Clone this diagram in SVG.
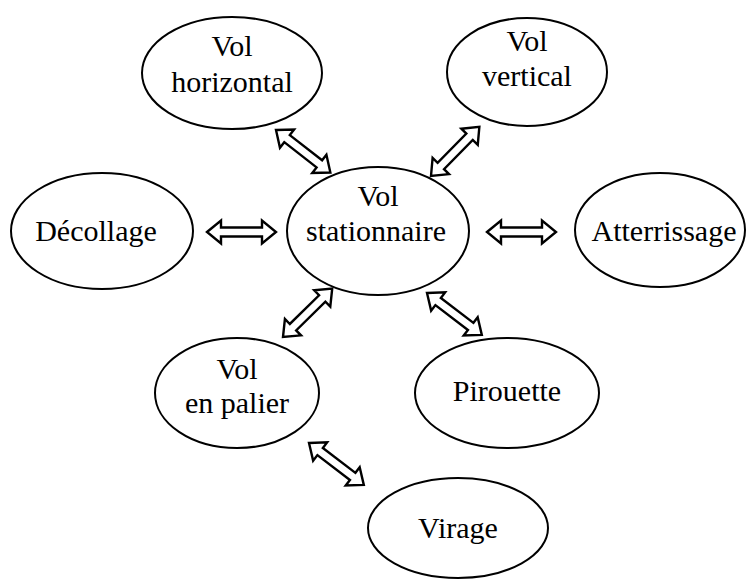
<svg xmlns="http://www.w3.org/2000/svg" width="748" height="580" viewBox="0 0 748 580">
<style>
.n ellipse{fill:#fff;stroke:#000;stroke-width:2}
.n text{font-family:"Liberation Serif","Times New Roman",serif;font-size:30px;fill:#000;text-anchor:middle}
.a{fill:#fff;stroke:#000;stroke-width:2.4;stroke-linejoin:miter}
</style>
<defs>
<polygon id="dbl" points="0,0 14,-11.5 14,-4.5 55,-4.5 55,-11.5 69,0 55,11.5 55,4.5 14,4.5 14,11.5"/>
</defs>
<rect width="748" height="580" fill="#fff"/>
<g id="connectors">
<use href="#dbl" class="a" transform="translate(207,232)"/>
<use href="#dbl" class="a" transform="translate(487,232)"/>
<use href="#dbl" class="a" transform="translate(276,130) rotate(38)"/>
<use href="#dbl" class="a" transform="translate(431,176) rotate(-45.5)"/>
<use href="#dbl" class="a" transform="translate(283,337) rotate(-44.5)"/>
<use href="#dbl" class="a" transform="translate(427,293) rotate(37.4)"/>
<use href="#dbl" class="a" transform="translate(309,443) rotate(37.4)"/>
</g>
<g id="vol-horizontal" class="n"><ellipse cx="232" cy="73" rx="90" ry="56"/><text x="232" y="56">Vol</text><text x="232" y="92">horizontal</text></g>
<g id="vol-vertical" class="n"><ellipse cx="527" cy="72" rx="80" ry="54"/><text x="527" y="51">Vol</text><text x="527" y="86">vertical</text></g>
<g id="decollage" class="n"><ellipse cx="102" cy="231" rx="91" ry="58"/><text x="96" y="241">Décollage</text></g>
<g id="vol-stationnaire" class="n"><ellipse cx="378" cy="231" rx="91" ry="64"/><text x="378" y="206">Vol</text><text x="376" y="241">stationnaire</text></g>
<g id="atterrissage" class="n"><ellipse cx="660" cy="230" rx="85" ry="57"/><text x="664" y="241">Atterrissage</text></g>
<g id="vol-en-palier" class="n"><ellipse cx="237" cy="393" rx="82" ry="55"/><text x="237" y="379">Vol</text><text x="237" y="413">en palier</text></g>
<g id="pirouette" class="n"><ellipse cx="507" cy="393" rx="92" ry="55"/><text x="507" y="401">Pirouette</text></g>
<g id="virage" class="n"><ellipse cx="458" cy="528" rx="90" ry="50"/><text x="458" y="538">Virage</text></g>
</svg>
